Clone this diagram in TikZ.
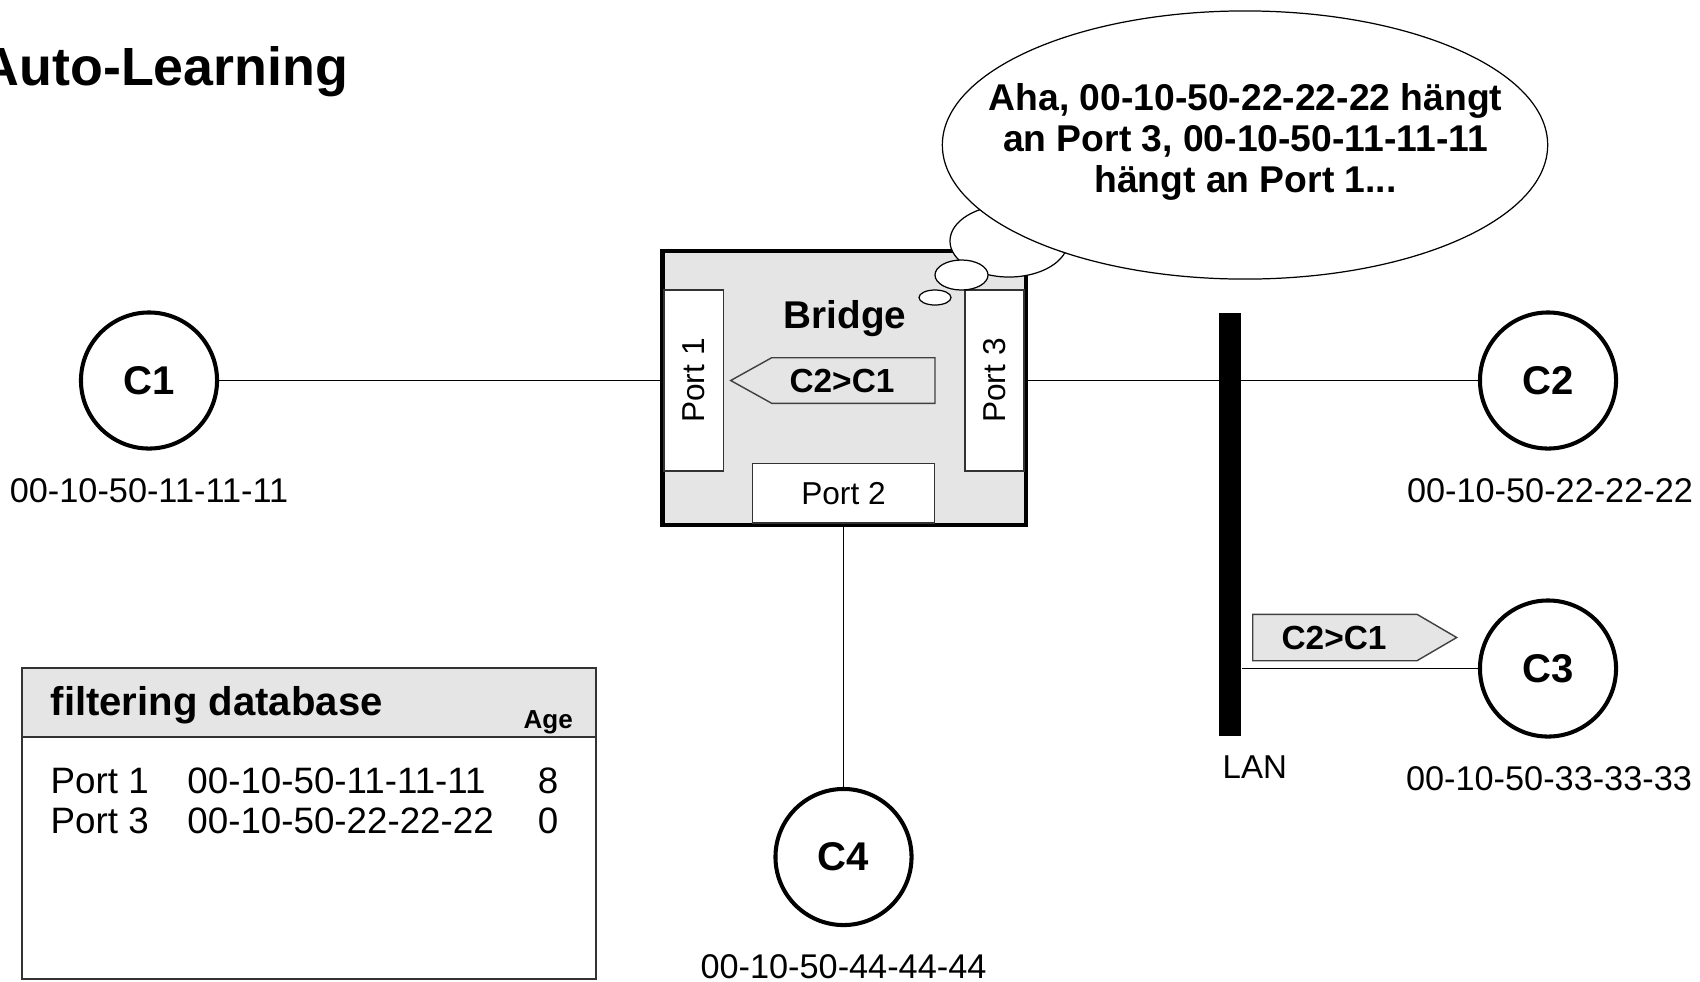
\documentclass[tikz,border=0pt]{standalone}
\usepackage{fontspec}
\setmainfont{Liberation Sans}
\usetikzlibrary{shapes.geometric}

\tikzset{
  host/.style={draw, circle, line width=1.15pt, minimum size=1.36cm, inner sep=0pt,
    font=\fontsize{11.4}{13}\selectfont\bfseries},
  mac/.style={anchor=base, inner sep=0pt, font=\fontsize{9.75}{11}\selectfont},
  portbox/.style={draw=black!80, fill=white, line width=0.4pt, inner sep=0pt,
    font=\fontsize{9}{11}\selectfont},
  link/.style={line width=0.45pt},
  frame/.style={draw=black!75, line width=0.4pt, fill=black!10},
  framelabel/.style={inner sep=0pt, font=\fontsize{9.5}{11}\selectfont\bfseries},
  bubble/.style={draw, ellipse, fill=white, line width=0.35pt, inner sep=0pt},
  dbtext/.style={anchor=base west, inner sep=0pt, font=\fontsize{10.45}{12}\selectfont},
}

\begin{document}
\begin{tikzpicture}[x=0.01cm, y=-0.01cm]
    \useasboundingbox (0,0) rectangle (1700,981);

    \node[anchor=base east, inner sep=0pt, font=\fontsize{15.3}{18}\selectfont\bfseries]
        at (349,85) (title) {Auto-Learning};

    % filtering database
    \node[draw=black!80, line width=0.6pt, fill=white, anchor=north west, inner sep=0pt,
        minimum width=5.743cm, minimum height=3.107cm] at (20.7,667.3) (db) {};
    \node[draw=black!80, line width=0.6pt, fill=black!10, anchor=north west, inner sep=0pt,
        minimum width=5.743cm, minimum height=0.687cm] at (20.7,667.3) (dbhead) {};
    \node[anchor=base west, inner sep=0pt, font=\fontsize{11.4}{13}\selectfont\bfseries]
        at (50,715) (dbtitle) {filtering database};
    \node[anchor=base west, inner sep=0pt, font=\fontsize{7.4}{9}\selectfont\bfseries]
        at (523,728) (dbage) {Age};
    \node[dbtext] at (50,793) (row1port) {Port 1};
    \node[dbtext] at (186.7,793) (row1mac) {00-10-50-11-11-11};
    \node[dbtext, anchor=base] at (548,793) (row1age) {8};
    \node[dbtext] at (50,833) (row2port) {Port 3};
    \node[dbtext] at (186.7,833) (row2mac) {00-10-50-22-22-22};
    \node[dbtext, anchor=base] at (548,833) (row2age) {0};

    % bridge
    \node[draw, line width=1.2pt, fill=black!10, inner sep=0pt,
        minimum width=3.635cm, minimum height=2.74cm] at (844.3,388) (bridge) {};
    \node[portbox, rotate=90, minimum width=1.81cm, minimum height=0.593cm]
        at (693.7,380.5) (P1) {Port 1};
    \node[portbox, rotate=90, minimum width=1.81cm, minimum height=0.59cm]
        at (994.5,380.5) (P3) {Port 3};
    \node[portbox, minimum width=1.817cm, minimum height=0.597cm]
        at (843.5,493.2) (P2) {Port 2};
    \node[anchor=base, inner sep=0pt, font=\fontsize{11}{13}\selectfont\bfseries]
        at (845,328.3) (bridgename) {Bridge};

    \draw[frame] (771.7,357.7) -- (935,357.7) -- (935,403.3) -- (771.7,403.3)
        -- (730.7,380.5) -- cycle;
    \node[framelabel] at (842,380.5) (frameB) {C2>C1};

    % thought bubbles
    \node[bubble, minimum width=1.18cm, minimum height=0.72cm] at (1009,241) (puff3) {};
    \node[bubble, minimum width=6.05cm, minimum height=2.68cm] at (1245,145) (thought) {};
    \node[bubble, minimum width=0.53cm, minimum height=0.30cm] at (961.5,275) (puff2) {};
    \node[bubble, minimum width=0.32cm, minimum height=0.15cm] at (935,297.5) (puff1) {};
    \node[align=center, inner sep=0pt, font=\fontsize{10.6}{11.7}\selectfont\bfseries]
        at (1245.5,142) (thoughttext)
        {Aha, 00-10-50-22-22-22 hängt\\an Port 3, 00-10-50-11-11-11\\hängt an Port 1...};

    % LAN
    \node[fill=black, inner sep=0pt, minimum width=0.22cm, minimum height=4.23cm]
        at (1230,524.2) (LAN) {};
    \node[anchor=base west, inner sep=0pt, font=\fontsize{9.4}{11}\selectfont]
        at (1222,778) (lanname) {LAN};

    % hosts
    \node[host] at (149,380.5) (C1) {C1};
    \node[host] at (1548,380.5) (C2) {C2};
    \node[host] at (1548,668.5) (C3) {C3};
    \node[host] at (843.5,857) (C4) {C4};

    \node[mac] at (149,502) (mac1) {00-10-50-11-11-11};
    \node[mac] at (1550,502) (mac2) {00-10-50-22-22-22};
    \node[mac] at (1549,790) (mac3) {00-10-50-33-33-33};
    \node[mac] at (843.5,978) (mac4) {00-10-50-44-44-44};

    \draw[link] (C1) -- (P1.north);
    \draw[link] (P3.south) -- (C2);
    \draw[link] (P2.south) -- (C4);
    \draw[link] (LAN.east |- C3) -- (C3);

    \draw[frame] (1252.7,614.3) -- (1417,614.3) -- (1456.7,637.5) -- (1417,660.7)
        -- (1252.7,660.7) -- cycle;
    \node[framelabel] at (1334,637.5) (frameL) {C2>C1};
\end{tikzpicture}
\end{document}
